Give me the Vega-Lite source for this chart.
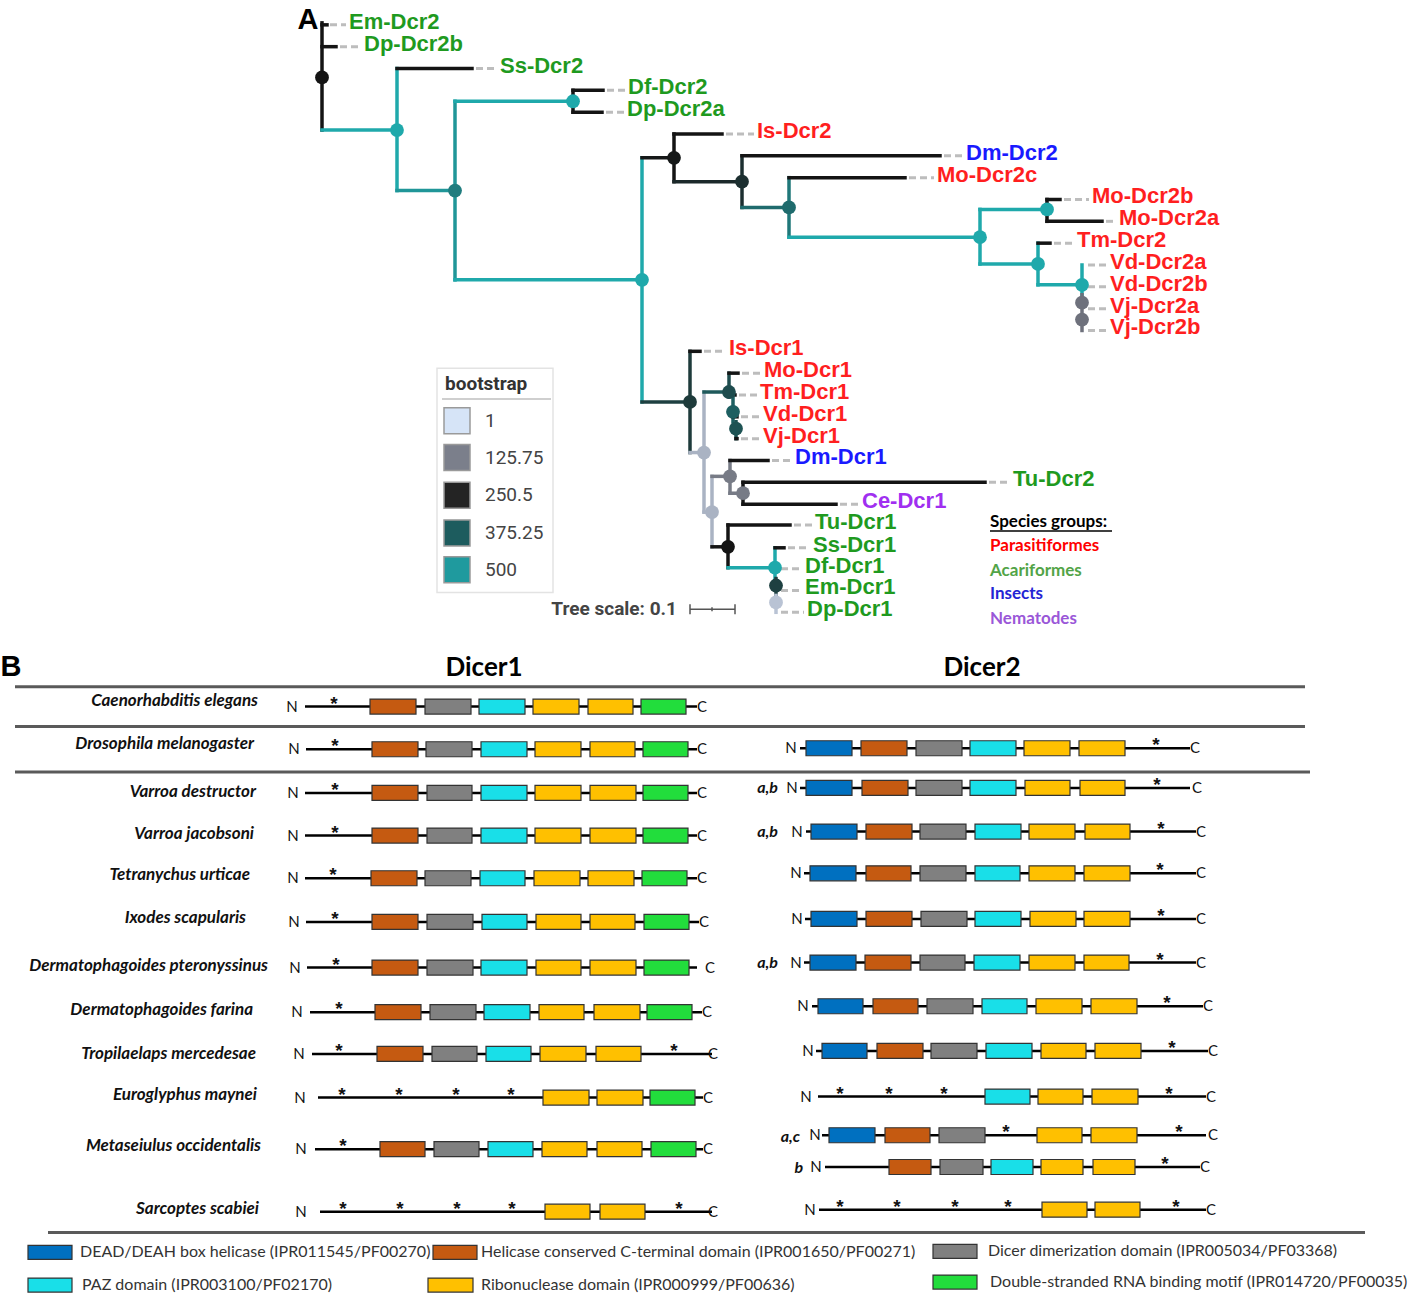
{
"$schema":"https://vega.github.io/schema/vega-lite/v6.json",
"width":1418,"height":1303,"padding":0,
"autosize":{"type":"fit","contains":"padding"},
"background":"white",
"config":{"view":{"stroke":null}},
"resolve":{"scale":{"color":"independent"}},
"datasets":{
"frames":[{"x":437,"x2":553,"y":366,"y2":592}],
"lines":[
{"role":"sep","x":15,"x2":1305,"y":687,"y2":687},
{"role":"sep","x":15,"x2":1305,"y":727,"y2":727},
{"role":"sep","x":15,"x2":1310,"y":773,"y2":773},
{"role":"sep","x":48,"x2":1365,"y":1237,"y2":1237},
{"role":"bsline","x":442,"x2":551,"y":397,"y2":397},
{"role":"sgline","x":990,"x2":1112,"y":530,"y2":530},
{"role":"scalebar","x":690,"x2":735,"y":609,"y2":609},
{"role":"scalebar","x":690,"x2":690,"y":604,"y2":614},
{"role":"scalebar","x":735,"x2":735,"y":604,"y2":614},
{"role":"scalebar","x":712,"x2":712,"y":607,"y2":611}
],
"branches":[
{"x":322,"y":18,"x2":322,"y2":126,"bs":250},
{"x":322,"y":20,"x2":327,"y2":20,"bs":250},
{"x":322,"y":42,"x2":336,"y2":42,"bs":250},
{"x":322,"y":126,"x2":397,"y2":126,"bs":500},
{"x":397,"y":64,"x2":397,"y2":187,"bs":500},
{"x":397,"y":64,"x2":472,"y2":64,"bs":250},
{"x":397,"y":187,"x2":455,"y2":187,"bs":470},
{"x":455,"y":97,"x2":455,"y2":277,"bs":470},
{"x":455,"y":97,"x2":573,"y2":97,"bs":500},
{"x":573,"y":86,"x2":573,"y2":108,"bs":250},
{"x":573,"y":86,"x2":603,"y2":86,"bs":250},
{"x":573,"y":108,"x2":602,"y2":108,"bs":250},
{"x":455,"y":277,"x2":642,"y2":277,"bs":500},
{"x":642,"y":154,"x2":642,"y2":400,"bs":500},
{"x":642,"y":154,"x2":674,"y2":154,"bs":260},
{"x":674,"y":130,"x2":674,"y2":178,"bs":250},
{"x":674,"y":130,"x2":722,"y2":130,"bs":250},
{"x":674,"y":178,"x2":742,"y2":178,"bs":290},
{"x":742,"y":152,"x2":742,"y2":204,"bs":300},
{"x":742,"y":152,"x2":940,"y2":152,"bs":250},
{"x":742,"y":204,"x2":789,"y2":204,"bs":400},
{"x":789,"y":174,"x2":789,"y2":234,"bs":420},
{"x":789,"y":174,"x2":905,"y2":174,"bs":250},
{"x":789,"y":234,"x2":980,"y2":234,"bs":500},
{"x":980,"y":206,"x2":980,"y2":261,"bs":500},
{"x":980,"y":206,"x2":1047,"y2":206,"bs":500},
{"x":1047,"y":196,"x2":1047,"y2":218,"bs":250},
{"x":1047,"y":196,"x2":1060,"y2":196,"bs":250},
{"x":1047,"y":218,"x2":1102,"y2":218,"bs":250},
{"x":980,"y":261,"x2":1038,"y2":261,"bs":500},
{"x":1038,"y":240,"x2":1038,"y2":282,"bs":500},
{"x":1038,"y":240,"x2":1050,"y2":240,"bs":250},
{"x":1038,"y":282,"x2":1082,"y2":282,"bs":500},
{"x":1082,"y":262,"x2":1082,"y2":292,"bs":500},
{"x":1082,"y":292,"x2":1082,"y2":328,"bs":140},
{"x":642,"y":400,"x2":690,"y2":400,"bs":330},
{"x":690,"y":349,"x2":690,"y2":451,"bs":320},
{"x":690,"y":349,"x2":700,"y2":349,"bs":250},
{"x":690,"y":451,"x2":704,"y2":451,"bs":60},
{"x":704,"y":390,"x2":704,"y2":511,"bs":60},
{"x":704,"y":390,"x2":729,"y2":390,"bs":370},
{"x":729,"y":371,"x2":729,"y2":395,"bs":350},
{"x":729,"y":371,"x2":738,"y2":371,"bs":250},
{"x":729,"y":393,"x2":735,"y2":393,"bs":250},
{"x":733,"y":395,"x2":733,"y2":420,"bs":380},
{"x":733,"y":415,"x2":737,"y2":415,"bs":250},
{"x":736,"y":420,"x2":736,"y2":437,"bs":360},
{"x":736,"y":437,"x2":737,"y2":437,"bs":250},
{"x":704,"y":511,"x2":712,"y2":511,"bs":60},
{"x":712,"y":475,"x2":712,"y2":546,"bs":60},
{"x":712,"y":475,"x2":730,"y2":475,"bs":130},
{"x":730,"y":459,"x2":730,"y2":492,"bs":130},
{"x":730,"y":459,"x2":768,"y2":459,"bs":250},
{"x":730,"y":492,"x2":743,"y2":492,"bs":130},
{"x":743,"y":481,"x2":743,"y2":503,"bs":250},
{"x":743,"y":481,"x2":985,"y2":481,"bs":250},
{"x":743,"y":503,"x2":836,"y2":503,"bs":250},
{"x":712,"y":546,"x2":728,"y2":546,"bs":250},
{"x":728,"y":524,"x2":728,"y2":567,"bs":250},
{"x":728,"y":524,"x2":790,"y2":524,"bs":250},
{"x":728,"y":567,"x2":775,"y2":567,"bs":500},
{"x":775,"y":547,"x2":775,"y2":578,"bs":500},
{"x":775,"y":547,"x2":784,"y2":547,"bs":250},
{"x":776,"y":578,"x2":776,"y2":595,"bs":330},
{"x":776,"y":595,"x2":776,"y2":612,"bs":40}
],
"nodes":[
{"x":322,"y":73,"bs":250},{"x":397,"y":126,"bs":500},{"x":455,"y":187,"bs":430},
{"x":573,"y":97,"bs":500},{"x":642,"y":277,"bs":500},{"x":674,"y":154,"bs":260},
{"x":742,"y":178,"bs":300},{"x":789,"y":204,"bs":400},{"x":980,"y":234,"bs":500},
{"x":1047,"y":206,"bs":500},{"x":1038,"y":261,"bs":500},{"x":1082,"y":282,"bs":500},
{"x":1082,"y":300,"bs":140},{"x":1082,"y":317,"bs":140},{"x":690,"y":400,"bs":320},
{"x":704,"y":451,"bs":60},{"x":729,"y":390,"bs":350},{"x":733,"y":410,"bs":380},
{"x":736,"y":427,"bs":360},{"x":712,"y":511,"bs":60},{"x":730,"y":475,"bs":130},
{"x":743,"y":492,"bs":130},{"x":728,"y":546,"bs":250},{"x":775,"y":567,"bs":500},
{"x":776,"y":585,"bs":330},{"x":776,"y":602,"bs":40}
],
"tips":[
{"name":"Em-Dcr2","group":"Acariformes","x":326,"y":20,"lx":346},
{"name":"Dp-Dcr2b","group":"Acariformes","x":336,"y":42,"lx":361},
{"name":"Ss-Dcr2","group":"Acariformes","x":472,"y":64,"lx":497},
{"name":"Df-Dcr2","group":"Acariformes","x":603,"y":86,"lx":625},
{"name":"Dp-Dcr2a","group":"Acariformes","x":602,"y":108,"lx":624},
{"name":"Is-Dcr2","group":"Parasitiformes","x":722,"y":130,"lx":754},
{"name":"Dm-Dcr2","group":"Insects","x":940,"y":152,"lx":963},
{"name":"Mo-Dcr2c","group":"Parasitiformes","x":905,"y":174,"lx":934},
{"name":"Mo-Dcr2b","group":"Parasitiformes","x":1060,"y":196,"lx":1089},
{"name":"Mo-Dcr2a","group":"Parasitiformes","x":1102,"y":218,"lx":1116},
{"name":"Tm-Dcr2","group":"Parasitiformes","x":1050,"y":240,"lx":1074},
{"name":"Vd-Dcr2a","group":"Parasitiformes","x":1084,"y":262,"lx":1107},
{"name":"Vd-Dcr2b","group":"Parasitiformes","x":1084,"y":284,"lx":1107},
{"name":"Vj-Dcr2a","group":"Parasitiformes","x":1084,"y":306,"lx":1107},
{"name":"Vj-Dcr2b","group":"Parasitiformes","x":1084,"y":328,"lx":1107},
{"name":"Is-Dcr1","group":"Parasitiformes","x":700,"y":349,"lx":726},
{"name":"Mo-Dcr1","group":"Parasitiformes","x":738,"y":371,"lx":761},
{"name":"Tm-Dcr1","group":"Parasitiformes","x":735,"y":393,"lx":757},
{"name":"Vd-Dcr1","group":"Parasitiformes","x":737,"y":415,"lx":760},
{"name":"Vj-Dcr1","group":"Parasitiformes","x":737,"y":437,"lx":760},
{"name":"Dm-Dcr1","group":"Insects","x":768,"y":459,"lx":792},
{"name":"Tu-Dcr2","group":"Acariformes","x":985,"y":481,"lx":1010},
{"name":"Ce-Dcr1","group":"Nematodes","x":836,"y":503,"lx":859},
{"name":"Tu-Dcr1","group":"Acariformes","x":790,"y":524,"lx":812},
{"name":"Ss-Dcr1","group":"Acariformes","x":784,"y":547,"lx":810},
{"name":"Df-Dcr1","group":"Acariformes","x":777,"y":568,"lx":802},
{"name":"Em-Dcr1","group":"Acariformes","x":777,"y":590,"lx":802},
{"name":"Dp-Dcr1","group":"Acariformes","x":777,"y":612,"lx":804}
],
"bsLegend":[
{"value":1,"label":"1","x":457,"y":419,"tx":485},
{"value":125.75,"label":"125.75","x":457,"y":456,"tx":485},
{"value":250.5,"label":"250.5","x":457,"y":494,"tx":485},
{"value":375.25,"label":"375.25","x":457,"y":532,"tx":485},
{"value":500,"label":"500","x":457,"y":569,"tx":485}
],
"groups":[
{"group":"Parasitiformes","x":990,"y":545},
{"group":"Acariformes","x":990,"y":570},
{"group":"Insects","x":990,"y":594},
{"group":"Nematodes","x":990,"y":619}
],
"annotations":[
{"role":"panel","text":"A","x":308,"y":15},
{"role":"panel","text":"B","x":11,"y":667},
{"role":"header","text":"Dicer1","x":484,"y":668},
{"role":"header","text":"Dicer2","x":982,"y":668},
{"role":"bstitle","text":"bootstrap","x":445,"y":382},
{"role":"treescale","text":"Tree scale: 0.1","x":677,"y":609},
{"role":"sgtitle","text":"Species groups:","x":990,"y":521}
],
"speciesB":[
{"species":"Caenorhabditis elegans","x":258,"y":701},
{"species":"Drosophila melanogaster","x":254,"y":745},
{"species":"Varroa destructor","x":256,"y":793},
{"species":"Varroa jacobsoni","x":254,"y":835},
{"species":"Tetranychus urticae","x":250,"y":877},
{"species":"Ixodes scapularis","x":246,"y":920},
{"species":"Dermatophagoides pteronyssinus","x":268,"y":968},
{"species":"Dermatophagoides farina","x":253,"y":1013},
{"species":"Tropilaelaps mercedesae","x":256,"y":1057},
{"species":"Euroglyphus maynei","x":257,"y":1098},
{"species":"Metaseiulus occidentalis","x":261,"y":1150},
{"species":"Sarcoptes scabiei","x":259,"y":1213}
],
"notes":[
{"label":"a,b","x":778,"y":789},
{"label":"a,b","x":778,"y":833},
{"label":"a,b","x":778,"y":965},
{"label":"a,c","x":800,"y":1141},
{"label":"b","x":803,"y":1172}
],
"backbone":[
{"gene":"Dicer1","species":"Caenorhabditis elegans","y":707,"nx":292,"start":305,"end":697,"cx":697},
{"gene":"Dicer1","species":"Drosophila melanogaster","y":750,"nx":294,"start":306,"end":697,"cx":697},
{"gene":"Dicer1","species":"Varroa destructor","y":794,"nx":293,"start":305,"end":697,"cx":697},
{"gene":"Dicer1","species":"Varroa jacobsoni","y":837,"nx":293,"start":305,"end":697,"cx":697},
{"gene":"Dicer1","species":"Tetranychus urticae","y":880,"nx":293,"start":305,"end":697,"cx":697},
{"gene":"Dicer1","species":"Ixodes scapularis","y":924,"nx":294,"start":306,"end":699,"cx":699},
{"gene":"Dicer1","species":"Dermatophagoides pteronyssinus","y":970,"nx":295,"start":307,"end":697,"cx":705},
{"gene":"Dicer1","species":"Dermatophagoides farina","y":1015,"nx":297,"start":310,"end":702,"cx":702},
{"gene":"Dicer1","species":"Tropilaelaps mercedesae","y":1057,"nx":299,"start":312,"end":712,"cx":708},
{"gene":"Dicer1","species":"Euroglyphus maynei","y":1101,"nx":300,"start":318,"end":703,"cx":703},
{"gene":"Dicer1","species":"Metaseiulus occidentalis","y":1153,"nx":301,"start":315,"end":703,"cx":703},
{"gene":"Dicer1","species":"Sarcoptes scabiei","y":1216,"nx":301,"start":320,"end":712,"cx":708},
{"gene":"Dicer2","species":"Drosophila melanogaster","y":749,"nx":791,"start":800,"end":1190,"cx":1190},
{"gene":"Dicer2","species":"Varroa destructor","y":789,"nx":792,"start":800,"end":1190,"cx":1192},
{"gene":"Dicer2","species":"Varroa jacobsoni","y":833,"nx":797,"start":806,"end":1196,"cx":1196},
{"gene":"Dicer2","species":"Tetranychus urticae","y":875,"nx":796,"start":804,"end":1196,"cx":1196},
{"gene":"Dicer2","species":"Ixodes scapularis","y":921,"nx":797,"start":805,"end":1196,"cx":1196},
{"gene":"Dicer2","species":"Dermatophagoides pteronyssinus","y":965,"nx":796,"start":804,"end":1196,"cx":1196},
{"gene":"Dicer2","species":"Dermatophagoides farina","y":1009,"nx":803,"start":812,"end":1203,"cx":1203},
{"gene":"Dicer2","species":"Tropilaelaps mercedesae","y":1054,"nx":808,"start":816,"end":1208,"cx":1208},
{"gene":"Dicer2","species":"Euroglyphus maynei","y":1100,"nx":806,"start":818,"end":1206,"cx":1206},
{"gene":"Dicer2","species":"Metaseiulus occidentalis a,c","y":1139,"nx":815,"start":822,"end":1206,"cx":1208},
{"gene":"Dicer2","species":"Metaseiulus occidentalis b","y":1171,"nx":816,"start":825,"end":1200,"cx":1200},
{"gene":"Dicer2","species":"Sarcoptes scabiei","y":1214,"nx":810,"start":819,"end":1206,"cx":1206}
],
"domainsB":[
{"y":707,"domain":"Helicase C-terminal","start":370,"end":416},{"y":707,"domain":"Dicer dimerization","start":425,"end":471},{"y":707,"domain":"PAZ","start":479,"end":525},{"y":707,"domain":"Ribonuclease","start":533,"end":579},{"y":707,"domain":"Ribonuclease","start":588,"end":633},{"y":707,"domain":"dsRBD","start":641,"end":686},
{"y":750,"domain":"Helicase C-terminal","start":372,"end":418},{"y":750,"domain":"Dicer dimerization","start":426,"end":472},{"y":750,"domain":"PAZ","start":481,"end":527},{"y":750,"domain":"Ribonuclease","start":535,"end":581},{"y":750,"domain":"Ribonuclease","start":590,"end":635},{"y":750,"domain":"dsRBD","start":643,"end":688},
{"y":794,"domain":"Helicase C-terminal","start":372,"end":418},{"y":794,"domain":"Dicer dimerization","start":427,"end":472},{"y":794,"domain":"PAZ","start":481,"end":527},{"y":794,"domain":"Ribonuclease","start":535,"end":581},{"y":794,"domain":"Ribonuclease","start":590,"end":636},{"y":794,"domain":"dsRBD","start":643,"end":688},
{"y":837,"domain":"Helicase C-terminal","start":372,"end":418},{"y":837,"domain":"Dicer dimerization","start":427,"end":472},{"y":837,"domain":"PAZ","start":481,"end":527},{"y":837,"domain":"Ribonuclease","start":535,"end":581},{"y":837,"domain":"Ribonuclease","start":590,"end":636},{"y":837,"domain":"dsRBD","start":643,"end":688},
{"y":880,"domain":"Helicase C-terminal","start":371,"end":417},{"y":880,"domain":"Dicer dimerization","start":425,"end":471},{"y":880,"domain":"PAZ","start":480,"end":525},{"y":880,"domain":"Ribonuclease","start":534,"end":580},{"y":880,"domain":"Ribonuclease","start":588,"end":634},{"y":880,"domain":"dsRBD","start":642,"end":687},
{"y":924,"domain":"Helicase C-terminal","start":372,"end":418},{"y":924,"domain":"Dicer dimerization","start":427,"end":473},{"y":924,"domain":"PAZ","start":482,"end":527},{"y":924,"domain":"Ribonuclease","start":536,"end":581},{"y":924,"domain":"Ribonuclease","start":590,"end":635},{"y":924,"domain":"dsRBD","start":644,"end":689},
{"y":970,"domain":"Helicase C-terminal","start":372,"end":418},{"y":970,"domain":"Dicer dimerization","start":427,"end":473},{"y":970,"domain":"PAZ","start":481,"end":527},{"y":970,"domain":"Ribonuclease","start":536,"end":581},{"y":970,"domain":"Ribonuclease","start":590,"end":636},{"y":970,"domain":"dsRBD","start":644,"end":689},
{"y":1015,"domain":"Helicase C-terminal","start":375,"end":421},{"y":1015,"domain":"Dicer dimerization","start":430,"end":476},{"y":1015,"domain":"PAZ","start":484,"end":530},{"y":1015,"domain":"Ribonuclease","start":539,"end":584},{"y":1015,"domain":"Ribonuclease","start":594,"end":640},{"y":1015,"domain":"dsRBD","start":647,"end":692},
{"y":1057,"domain":"Helicase C-terminal","start":377,"end":423},{"y":1057,"domain":"Dicer dimerization","start":432,"end":477},{"y":1057,"domain":"PAZ","start":486,"end":531},{"y":1057,"domain":"Ribonuclease","start":540,"end":586},{"y":1057,"domain":"Ribonuclease","start":596,"end":641},
{"y":1101,"domain":"Ribonuclease","start":543,"end":589},{"y":1101,"domain":"Ribonuclease","start":597,"end":643},{"y":1101,"domain":"dsRBD","start":650,"end":695},
{"y":1153,"domain":"Helicase C-terminal","start":380,"end":425},{"y":1153,"domain":"Dicer dimerization","start":434,"end":479},{"y":1153,"domain":"PAZ","start":488,"end":533},{"y":1153,"domain":"Ribonuclease","start":542,"end":587},{"y":1153,"domain":"Ribonuclease","start":597,"end":642},{"y":1153,"domain":"dsRBD","start":651,"end":696},
{"y":1216,"domain":"Ribonuclease","start":545,"end":590},{"y":1216,"domain":"Ribonuclease","start":600,"end":645},
{"y":749,"domain":"DEAD/DEAH box helicase","start":806,"end":852},{"y":749,"domain":"Helicase C-terminal","start":861,"end":907},{"y":749,"domain":"Dicer dimerization","start":916,"end":962},{"y":749,"domain":"PAZ","start":970,"end":1016},{"y":749,"domain":"Ribonuclease","start":1024,"end":1070},{"y":749,"domain":"Ribonuclease","start":1079,"end":1125},
{"y":789,"domain":"DEAD/DEAH box helicase","start":806,"end":852},{"y":789,"domain":"Helicase C-terminal","start":862,"end":908},{"y":789,"domain":"Dicer dimerization","start":916,"end":962},{"y":789,"domain":"PAZ","start":970,"end":1016},{"y":789,"domain":"Ribonuclease","start":1025,"end":1070},{"y":789,"domain":"Ribonuclease","start":1080,"end":1125},
{"y":833,"domain":"DEAD/DEAH box helicase","start":811,"end":857},{"y":833,"domain":"Helicase C-terminal","start":866,"end":912},{"y":833,"domain":"Dicer dimerization","start":920,"end":966},{"y":833,"domain":"PAZ","start":975,"end":1021},{"y":833,"domain":"Ribonuclease","start":1029,"end":1075},{"y":833,"domain":"Ribonuclease","start":1085,"end":1130},
{"y":875,"domain":"DEAD/DEAH box helicase","start":810,"end":856},{"y":875,"domain":"Helicase C-terminal","start":866,"end":911},{"y":875,"domain":"Dicer dimerization","start":920,"end":966},{"y":875,"domain":"PAZ","start":975,"end":1020},{"y":875,"domain":"Ribonuclease","start":1029,"end":1075},{"y":875,"domain":"Ribonuclease","start":1084,"end":1130},
{"y":921,"domain":"DEAD/DEAH box helicase","start":811,"end":857},{"y":921,"domain":"Helicase C-terminal","start":866,"end":912},{"y":921,"domain":"Dicer dimerization","start":921,"end":967},{"y":921,"domain":"PAZ","start":975,"end":1021},{"y":921,"domain":"Ribonuclease","start":1030,"end":1076},{"y":921,"domain":"Ribonuclease","start":1084,"end":1130},
{"y":965,"domain":"DEAD/DEAH box helicase","start":810,"end":856},{"y":965,"domain":"Helicase C-terminal","start":865,"end":911},{"y":965,"domain":"Dicer dimerization","start":920,"end":965},{"y":965,"domain":"PAZ","start":974,"end":1020},{"y":965,"domain":"Ribonuclease","start":1029,"end":1075},{"y":965,"domain":"Ribonuclease","start":1084,"end":1129},
{"y":1009,"domain":"DEAD/DEAH box helicase","start":818,"end":863},{"y":1009,"domain":"Helicase C-terminal","start":873,"end":918},{"y":1009,"domain":"Dicer dimerization","start":927,"end":973},{"y":1009,"domain":"PAZ","start":982,"end":1027},{"y":1009,"domain":"Ribonuclease","start":1036,"end":1082},{"y":1009,"domain":"Ribonuclease","start":1091,"end":1137},
{"y":1054,"domain":"DEAD/DEAH box helicase","start":822,"end":867},{"y":1054,"domain":"Helicase C-terminal","start":877,"end":923},{"y":1054,"domain":"Dicer dimerization","start":931,"end":977},{"y":1054,"domain":"PAZ","start":986,"end":1032},{"y":1054,"domain":"Ribonuclease","start":1041,"end":1086},{"y":1054,"domain":"Ribonuclease","start":1095,"end":1141},
{"y":1100,"domain":"PAZ","start":985,"end":1030},{"y":1100,"domain":"Ribonuclease","start":1038,"end":1083},{"y":1100,"domain":"Ribonuclease","start":1092,"end":1138},
{"y":1139,"domain":"DEAD/DEAH box helicase","start":829,"end":875},{"y":1139,"domain":"Helicase C-terminal","start":885,"end":930},{"y":1139,"domain":"Dicer dimerization","start":939,"end":985},{"y":1139,"domain":"Ribonuclease","start":1037,"end":1082},{"y":1139,"domain":"Ribonuclease","start":1091,"end":1137},
{"y":1171,"domain":"Helicase C-terminal","start":889,"end":931},{"y":1171,"domain":"Dicer dimerization","start":940,"end":983},{"y":1171,"domain":"PAZ","start":991,"end":1033},{"y":1171,"domain":"Ribonuclease","start":1041,"end":1083},{"y":1171,"domain":"Ribonuclease","start":1093,"end":1135},
{"y":1214,"domain":"Ribonuclease","start":1042,"end":1087},{"y":1214,"domain":"Ribonuclease","start":1095,"end":1140}
],
"stars":[
{"x":334,"y":707},{"x":335,"y":750},{"x":335,"y":794},{"x":335,"y":837},{"x":333,"y":880},{"x":335,"y":924},{"x":336,"y":970},{"x":339,"y":1015},{"x":339,"y":1057},{"x":674,"y":1057},
{"x":342,"y":1101},{"x":399,"y":1101},{"x":456,"y":1101},{"x":511,"y":1101},{"x":343,"y":1153},
{"x":343,"y":1216},{"x":400,"y":1216},{"x":457,"y":1216},{"x":512,"y":1216},{"x":679,"y":1216},
{"x":1156,"y":749},{"x":1157,"y":789},{"x":1161,"y":833},{"x":1160,"y":875},{"x":1161,"y":921},{"x":1160,"y":965},{"x":1167,"y":1009},{"x":1172,"y":1054},
{"x":840,"y":1100},{"x":889,"y":1100},{"x":944,"y":1100},{"x":1169,"y":1100},
{"x":1006,"y":1139},{"x":1179,"y":1139},{"x":1165,"y":1171},
{"x":840,"y":1214},{"x":897,"y":1214},{"x":955,"y":1214},{"x":1008,"y":1214},{"x":1176,"y":1214}
],
"legendB":[
{"domain":"DEAD/DEAH box helicase","label":"DEAD/DEAH box helicase (IPR011545/PF00270)","x":28,"x2":72,"y":1257,"tx":80},
{"domain":"Helicase C-terminal","label":"Helicase conserved C-terminal domain (IPR001650/PF00271)","x":433,"x2":477,"y":1257,"tx":481},
{"domain":"Dicer dimerization","label":"Dicer dimerization domain (IPR005034/PF03368)","x":933,"x2":977,"y":1256,"tx":988},
{"domain":"PAZ","label":"PAZ domain (IPR003100/PF02170)","x":28,"x2":72,"y":1290,"tx":82},
{"domain":"Ribonuclease","label":"Ribonuclease domain (IPR000999/PF00636)","x":428,"x2":473,"y":1290,"tx":481},
{"domain":"dsRBD","label":"Double-stranded RNA binding motif (IPR014720/PF00035)","x":933,"x2":977,"y":1287,"tx":990}
]
},
"layer":[
{"data":{"name":"frames"},"mark":{"type":"rect","fill":"white","stroke":"#e3e3e3","strokeWidth":1.5},
 "encoding":{"x":{"field":"x","type":"quantitative","scale":{"domain":[0,1418],"nice":false,"zero":false},"axis":null},"x2":{"field":"x2"},
 "y":{"field":"y","type":"quantitative","scale":{"domain":[0,1303],"nice":false,"zero":false,"reverse":true},"axis":null},"y2":{"field":"y2"}}},
{"data":{"name":"lines"},"transform":[{"filter":"datum.role == 'sep'"}],"mark":{"type":"rule","stroke":"#5a5a5a","strokeWidth":3},
 "encoding":{"x":{"field":"x","type":"quantitative","scale":{"domain":[0,1418],"nice":false,"zero":false},"axis":null},"x2":{"field":"x2"},
 "y":{"field":"y","type":"quantitative","scale":{"domain":[0,1303],"nice":false,"zero":false,"reverse":true},"axis":null},"y2":{"field":"y2"}}},
{"data":{"name":"lines"},"transform":[{"filter":"datum.role == 'bsline'"}],"mark":{"type":"rule","stroke":"#cfcfcf","strokeWidth":2},
 "encoding":{"x":{"field":"x","type":"quantitative","axis":null},"x2":{"field":"x2"},"y":{"field":"y","type":"quantitative","axis":null},"y2":{"field":"y2"}}},
{"data":{"name":"lines"},"transform":[{"filter":"datum.role == 'sgline'"}],"mark":{"type":"rule","stroke":"#000000","strokeWidth":1.5},
 "encoding":{"x":{"field":"x","type":"quantitative","axis":null},"x2":{"field":"x2"},"y":{"field":"y","type":"quantitative","axis":null},"y2":{"field":"y2"}}},
{"data":{"name":"lines"},"transform":[{"filter":"datum.role == 'scalebar'"}],"mark":{"type":"rule","stroke":"#555555","strokeWidth":1.5},
 "encoding":{"x":{"field":"x","type":"quantitative","axis":null},"x2":{"field":"x2"},"y":{"field":"y","type":"quantitative","axis":null},"y2":{"field":"y2"}}},
{"data":{"name":"tips"},"mark":{"type":"rule","stroke":"#bdbdbd","strokeWidth":3,"strokeDash":[7,4],"strokeDashOffset":7},
 "encoding":{"x":{"field":"x","type":"quantitative","axis":null},"x2":{"field":"lx"},"y":{"field":"y","type":"quantitative","axis":null}}},
{"data":{"name":"branches"},"mark":{"type":"rule","strokeWidth":3.5,"strokeCap":"square"},
 "encoding":{"x":{"field":"x","type":"quantitative","axis":null},"x2":{"field":"x2"},"y":{"field":"y","type":"quantitative","axis":null},"y2":{"field":"y2"},
 "color":{"field":"bs","type":"quantitative","scale":{"type":"linear","domain":[1,125.75,250.5,375.25,500],"range":["#d6e4f7","#7b7f8b","#141414","#1d5c5e","#1fa9ab"]},"legend":null}}},
{"data":{"name":"nodes"},"mark":{"type":"circle","size":190,"opacity":1},
 "encoding":{"x":{"field":"x","type":"quantitative","axis":null},"y":{"field":"y","type":"quantitative","axis":null},
 "color":{"field":"bs","type":"quantitative","scale":{"type":"linear","domain":[1,125.75,250.5,375.25,500],"range":["#d6e4f7","#7b7f8b","#141414","#1d5c5e","#1fa9ab"]},"legend":null}}},
{"data":{"name":"tips"},"mark":{"type":"text","align":"left","baseline":"middle","dx":3,"dy":-3,"font":"Liberation Sans","fontWeight":"bold","fontSize":22},
 "encoding":{"x":{"field":"lx","type":"quantitative","axis":null},"y":{"field":"y","type":"quantitative","axis":null},"text":{"field":"name"},
 "color":{"field":"group","type":"nominal","scale":{"domain":["Parasitiformes","Acariformes","Insects","Nematodes"],"range":["#ff1f1f","#1f9a1f","#1a1aff","#a02ff0"]},"legend":null}}},
{"data":{"name":"bsLegend"},"mark":{"type":"square","size":676,"stroke":"#9a9a9a","strokeWidth":1.5,"opacity":1,"filled":true},
 "encoding":{"x":{"field":"x","type":"quantitative","axis":null},"y":{"field":"y","type":"quantitative","axis":null},
 "color":{"field":"value","type":"quantitative","scale":{"type":"linear","domain":[1,125.75,250.5,375.25,500],"range":["#d6e4f7","#7b7f8b","#242424","#1d5c5e","#1f9a9e"]},"legend":null}}},
{"data":{"name":"bsLegend"},"mark":{"type":"text","align":"left","baseline":"middle","font":"Roboto","fontSize":19,"color":"#444444"},
 "encoding":{"x":{"field":"tx","type":"quantitative","axis":null},"y":{"field":"y","type":"quantitative","axis":null},"text":{"field":"label"}}},
{"data":{"name":"annotations"},"transform":[{"filter":"datum.role == 'bstitle'"}],"mark":{"type":"text","align":"left","baseline":"middle","font":"Roboto","fontWeight":"bold","fontSize":19,"color":"#333333"},
 "encoding":{"x":{"field":"x","type":"quantitative","axis":null},"y":{"field":"y","type":"quantitative","axis":null},"text":{"field":"text"}}},
{"data":{"name":"annotations"},"transform":[{"filter":"datum.role == 'treescale'"}],"mark":{"type":"text","align":"right","baseline":"middle","font":"Roboto","fontWeight":"bold","fontSize":19,"color":"#444444"},
 "encoding":{"x":{"field":"x","type":"quantitative","axis":null},"y":{"field":"y","type":"quantitative","axis":null},"text":{"field":"text"}}},
{"data":{"name":"annotations"},"transform":[{"filter":"datum.role == 'sgtitle'"}],"mark":{"type":"text","align":"left","baseline":"middle","font":"Lato","fontWeight":"bold","fontSize":17,"color":"#000000"},
 "encoding":{"x":{"field":"x","type":"quantitative","axis":null},"y":{"field":"y","type":"quantitative","axis":null},"text":{"field":"text"}}},
{"data":{"name":"groups"},"mark":{"type":"text","align":"left","baseline":"middle","font":"Lato","fontWeight":"bold","fontSize":17},
 "encoding":{"x":{"field":"x","type":"quantitative","axis":null},"y":{"field":"y","type":"quantitative","axis":null},"text":{"field":"group"},
 "color":{"field":"group","type":"nominal","scale":{"domain":["Parasitiformes","Acariformes","Insects","Nematodes"],"range":["#ff0000","#52a447","#2424d4","#9a57d8"]},"legend":null}}},
{"data":{"name":"annotations"},"transform":[{"filter":"datum.role == 'panel'"}],"mark":{"type":"text","align":"center","baseline":"middle","font":"Liberation Sans","fontWeight":"bold","fontSize":29,"color":"#000000"},
 "encoding":{"x":{"field":"x","type":"quantitative","axis":null},"y":{"field":"y","type":"quantitative","axis":null},"text":{"field":"text"}}},
{"data":{"name":"annotations"},"transform":[{"filter":"datum.role == 'header'"}],"mark":{"type":"text","align":"center","baseline":"middle","font":"Lato","fontWeight":"bold","fontSize":26,"color":"#000000"},
 "encoding":{"x":{"field":"x","type":"quantitative","axis":null},"y":{"field":"y","type":"quantitative","axis":null},"text":{"field":"text"}}},
{"data":{"name":"speciesB"},"mark":{"type":"text","align":"right","baseline":"middle","font":"Lato","fontWeight":"bold","fontStyle":"italic","fontSize":17,"color":"#111111"},
 "encoding":{"x":{"field":"x","type":"quantitative","axis":null},"y":{"field":"y","type":"quantitative","axis":null},"text":{"field":"species"}}},
{"data":{"name":"notes"},"mark":{"type":"text","align":"right","baseline":"middle","font":"Lato","fontWeight":"bold","fontStyle":"italic","fontSize":16,"color":"#111111"},
 "encoding":{"x":{"field":"x","type":"quantitative","axis":null},"y":{"field":"y","type":"quantitative","axis":null},"text":{"field":"label"}}},
{"data":{"name":"backbone"},"mark":{"type":"rule","stroke":"#000000","strokeWidth":2.5},
 "encoding":{"x":{"field":"start","type":"quantitative","axis":null},"x2":{"field":"end"},"y":{"field":"y","type":"quantitative","axis":null}}},
{"data":{"name":"backbone"},"mark":{"type":"text","text":"N","align":"center","baseline":"middle","font":"Lato","fontSize":15,"color":"#111111"},
 "encoding":{"x":{"field":"nx","type":"quantitative","axis":null},"y":{"field":"y","type":"quantitative","axis":null}}},
{"data":{"name":"backbone"},"mark":{"type":"text","text":"C","align":"left","baseline":"middle","font":"Lato","fontSize":15,"color":"#111111"},
 "encoding":{"x":{"field":"cx","type":"quantitative","axis":null},"y":{"field":"y","type":"quantitative","axis":null}}},
{"data":{"name":"stars"},"mark":{"type":"text","text":"*","align":"center","baseline":"middle","dy":-3,"font":"Liberation Sans","fontWeight":"bold","fontSize":19,"color":"#111111"},
 "encoding":{"x":{"field":"x","type":"quantitative","axis":null},"y":{"field":"y","type":"quantitative","axis":null}}},
{"data":{"name":"domainsB"},"mark":{"type":"bar","orient":"horizontal","size":15,"stroke":"#333333","strokeWidth":1.2,"opacity":1},
 "encoding":{"x":{"field":"start","type":"quantitative","axis":null},"x2":{"field":"end"},"y":{"field":"y","type":"quantitative","axis":null},
 "color":{"field":"domain","type":"nominal","scale":{"domain":["DEAD/DEAH box helicase","Helicase C-terminal","Dicer dimerization","PAZ","Ribonuclease","dsRBD"],"range":["#0070c0","#c55a11","#808080","#19dfe8","#ffc000","#22dd3c"]},"legend":null}}},
{"data":{"name":"legendB"},"mark":{"type":"bar","orient":"horizontal","size":14,"stroke":"#333333","strokeWidth":1.2,"opacity":1},
 "encoding":{"x":{"field":"x","type":"quantitative","axis":null},"x2":{"field":"x2"},"y":{"field":"y","type":"quantitative","axis":null},
 "color":{"field":"domain","type":"nominal","scale":{"domain":["DEAD/DEAH box helicase","Helicase C-terminal","Dicer dimerization","PAZ","Ribonuclease","dsRBD"],"range":["#0070c0","#c55a11","#808080","#19dfe8","#ffc000","#22dd3c"]},"legend":null}}},
{"data":{"name":"legendB"},"mark":{"type":"text","align":"left","baseline":"middle","font":"Lato","fontSize":16,"color":"#333333"},
 "encoding":{"x":{"field":"tx","type":"quantitative","axis":null},"y":{"field":"y","type":"quantitative","axis":null},"text":{"field":"label"}}}
]
}
